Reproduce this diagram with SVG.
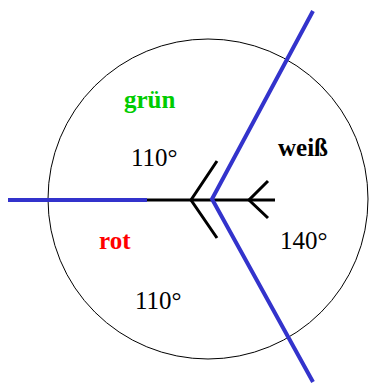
<svg xmlns="http://www.w3.org/2000/svg" width="370" height="383" viewBox="0 0 370 383">
<style>
.lbl{font-family:"Liberation Serif","Times New Roman",serif;font-size:25px}
.b{font-weight:bold}
.blue{stroke:#3333cc;stroke-width:4;fill:none}
.blk{stroke:#000;stroke-width:3;fill:none}
</style>
<rect width="370" height="383" fill="#fff"/>
<g id="circle"><circle cx="208" cy="199" r="160" fill="none" stroke="#000" stroke-width="1"/></g>
<g id="connectors">
<line class="blk" x1="147" y1="200" x2="275" y2="200"/>
<polyline class="blk" points="217,161 191,200 217,238"/>
<polyline class="blk" points="268,181 249,200 268,218"/>
<line class="blue" x1="8" y1="200" x2="147" y2="200"/>
<polyline class="blue" points="313,11 212,199 313,382"/>
</g>
<g id="gruen"><text class="lbl b" x="124" y="108" fill="#00cc00">grün</text></g>
<g id="weiss"><text class="lbl b" x="278" y="156" fill="#000">weiß</text></g>
<g id="rot"><text class="lbl b" x="99" y="249" fill="#ff0000">rot</text></g>
<g id="a1"><text class="lbl" x="131" y="166">110°</text></g>
<g id="a2"><text class="lbl" x="135" y="309">110°</text></g>
<g id="a3"><text class="lbl" x="280" y="249">140°</text></g>
</svg>
